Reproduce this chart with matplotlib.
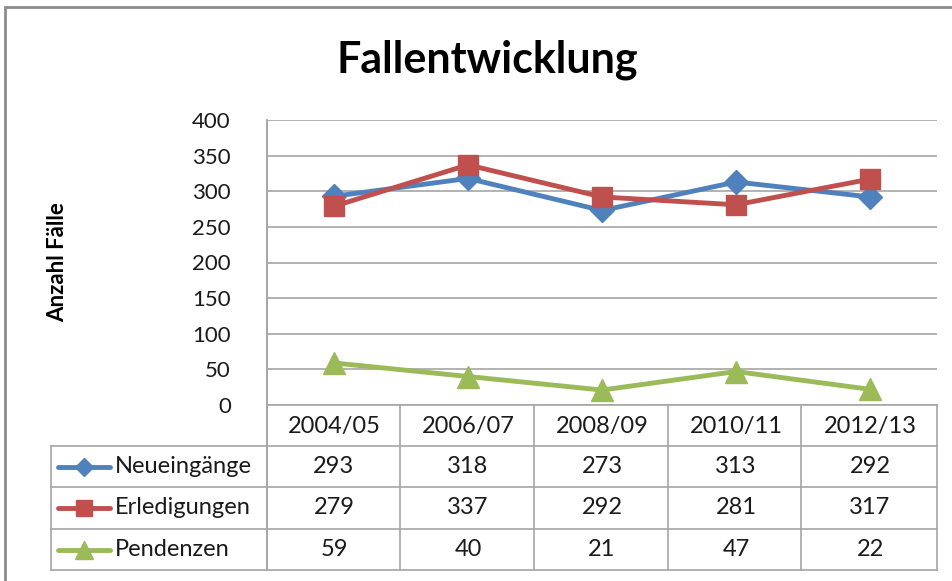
import matplotlib.pyplot as plt
import matplotlib.transforms as mtransforms
from matplotlib.lines import Line2D
from matplotlib.patches import Rectangle

plt.rcParams['font.family'] = ['Lato', 'DejaVu Sans']

# Daten
jahre = ['2004/05', '2006/07', '2008/09', '2010/11', '2012/13']
neueingaenge = [293, 318, 273, 313, 292]
erledigungen = [279, 337, 292, 281, 317]
pendenzen = [59, 40, 21, 47, 22]

serien = [
    ('Neueingänge', neueingaenge, '#4F81BD', 'D', 12),
    ('Erledigungen', erledigungen, '#C0504D', 's', 15),
    ('Pendenzen', pendenzen, '#9BBB59', '^', 16),
]

W, H = 952, 581
fig = plt.figure(figsize=(W / 100, H / 100), dpi=100)

def fx(px):
    return px / W

def fy(py):
    return 1 - py / H

# Rahmen um das Diagramm
fig.patches.append(Rectangle((fx(5), fy(600)), fx(960), fy(7) - fy(600),
                             transform=fig.transFigure, fill=False,
                             edgecolor='#8c8c8c', linewidth=2))

ax = fig.add_axes([fx(267), fy(405), fx(937) - fx(267), fy(120) - fy(405)])
x = list(range(len(jahre)))
for name, werte, farbe, marker, ms in serien:
    ax.plot(x, werte, color=farbe, linewidth=3.5, marker=marker,
            markersize=ms, solid_capstyle='round', zorder=3)

ax.set_xlim(-0.5, len(jahre) - 0.5)
ax.set_ylim(0, 400)
ax.set_yticks(range(0, 401, 50))
ax.set_xticks([])
ax.tick_params(axis='y', length=0, pad=26, labelsize=16, labelcolor='#1a1a1a')
ax.grid(axis='y', color='#a6a6a6', linewidth=1.2)
ax.set_axisbelow(True)
for s in ['top', 'right', 'bottom']:
    ax.spines[s].set_visible(False)
ax.spines['left'].set_color('#a6a6a6')
ax.spines['left'].set_linewidth(1.2)

fig.text(fx(487), fy(60), 'Fallentwicklung', fontsize=31, fontweight='bold',
         ha='center', va='center')
fig.text(fx(58), fy(262), 'Anzahl Fälle', fontsize=16, fontweight='bold',
         rotation=90, ha='center', va='center')

# Datentabelle
grau = '#a6a6a6'
lw = 1.2
zeilen_y = [405, 446, 487, 529, 570]
spalten_x = [267, 400, 534, 668, 801, 937]

def linie(x0, y0, x1, y1):
    fig.add_artist(Line2D([fx(x0), fx(x1)], [fy(y0), fy(y1)], color=grau,
                          linewidth=lw, transform=fig.transFigure))

linie(267, 405, 937, 405)
for yy in zeilen_y[1:]:
    linie(51, yy, 937, yy)
linie(51, 446, 51, 570)
for xx in spalten_x:
    linie(xx, 405, xx, 570)
linie(267, 120, 267, 570)

trans = mtransforms.blended_transform_factory(ax.transData, fig.transFigure)
for i, j in enumerate(jahre):
    fig.text(i, fy(426), j, transform=trans, ha='center', va='center',
             fontsize=17, color='#1a1a1a')

for r, (name, werte, farbe, marker, ms) in enumerate(serien):
    yc = (zeilen_y[r + 1] + zeilen_y[r + 2]) / 2
    fig.add_artist(Line2D([fx(58), fx(110)], [fy(yc), fy(yc)], color=farbe,
                          linewidth=3.5, solid_capstyle='round',
                          transform=fig.transFigure))
    fig.add_artist(Line2D([fx(84)], [fy(yc)], color=farbe, marker=marker,
                          markersize=ms * 0.8, linestyle='none',
                          transform=fig.transFigure))
    fig.text(fx(115), fy(yc), name, ha='left', va='center', fontsize=17,
             color='#1a1a1a')
    for i, v in enumerate(werte):
        fig.text(i, fy(yc), str(v), transform=trans, ha='center',
                 va='center', fontsize=17, color='#1a1a1a')

fig.savefig('out.png', dpi=100)
